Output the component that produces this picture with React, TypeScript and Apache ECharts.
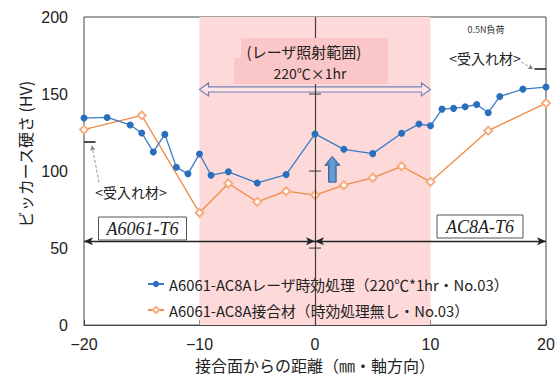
import React, { useEffect, useRef } from "react";
import * as echarts from "echarts";

// Hardness profile across the A6061 / AC8A joint
const laserDistance = [-20, -18, -16, -15, -14, -13, -12, -11, -10, -9, -7.5, -5, -2.5, 0, 2.5, 5, 7.5, 9, 10, 11, 12, 13, 14, 15, 16, 18, 20];
const laserHardness = [134.4, 134.8, 129.9, 124.7, 112.4, 123.8, 102.5, 98.2, 111.1, 97.3, 99.5, 92.3, 97.7, 124.1, 114.1, 111.3, 124.5, 130.5, 129.4, 140.2, 140.7, 141.7, 143.2, 137.9, 148.4, 153.2, 154.5];

const jointDistance = [-20, -15, -10, -7.5, -5, -2.5, 0, 2.5, 5, 7.5, 10, 15, 20];
const jointHardness = [126.9, 136.1, 72.9, 91.9, 80.0, 86.9, 84.4, 90.8, 95.6, 103.1, 93.0, 126.2, 144.1];

const laserName = "A6061-AC8Aレーザ時効処理（220℃*1hr・No.03）";
const jointName = "A6061-AC8A接合材（時効処理無し・No.03）";

// Laser-irradiated zone and reference levels (distance mm, hardness HV)
const laserZone = [-10, 10];
const zoneArrowLevel = 153;
const materialArrowLevel = 54.5;
const centerTicks = [50, 100, 150];
const upArrow = [1.5, 92.8, 109.6];
const leftAsReceived = { level: 119.1, leader: [[-18.7, 92.6], [-19.31, 116.5]] };
const rightAsReceived = { level: 166.3, leader: [[17.84, 170.9], [18.87, 166.3]] };

const BLUE = "#2a6fbd";
const ORANGE = "#f08a45";
const CJK = "'Noto Sans CJK JP', 'Noto Sans', sans-serif";
const NUM = "'Liberation Sans', Arial, sans-serif";

export default function App() {
  const ref = useRef<HTMLDivElement>(null);

  useEffect(() => {
    if (!ref.current) return;
    const chart = echarts.init(ref.current, undefined, { renderer: "svg" });

    const laserData = laserDistance.map((d, i) => [d, laserHardness[i]]);
    const jointData = jointDistance.map((d, i) => [d, jointHardness[i]]);

    const doubleArrow = (params: any, api: any) => {
      const a = api.coord([api.value(0), api.value(2)]);
      const b = api.coord([api.value(1), api.value(2)]);
      const y = a[1];
      const s = 2.6, h = 6.5, L = 9;
      const x1 = a[0], x2 = b[0];
      return {
        type: "polygon",
        shape: {
          points: [
            [x1, y], [x1 + L, y - h], [x1 + L, y - s], [x2 - L, y - s], [x2 - L, y - h],
            [x2, y], [x2 - L, y + h], [x2 - L, y + s], [x1 + L, y + s], [x1 + L, y + h],
          ],
        },
        style: { fill: "rgba(255,255,255,0.35)", stroke: "#7680b4", lineWidth: 1.2 },
      };
    };

    const blockArrowUp = (params: any, api: any) => {
      const bottom = api.coord([api.value(0), api.value(1)]);
      const top = api.coord([api.value(0), api.value(2)]);
      const x = bottom[0];
      const yb = bottom[1], yt = top[1];
      const s = 3.8, h = 7.5, L = 9;
      return {
        type: "polygon",
        shape: {
          points: [[x, yt], [x + h, yt + L], [x + s, yt + L], [x + s, yb], [x - s, yb], [x - s, yt + L], [x - h, yt + L]],
        },
        style: {
          fill: new echarts.graphic.LinearGradient(0, 0, 1, 0, [
            { offset: 0, color: "#3f70aa" },
            { offset: 0.5, color: "#6e9fd6" },
            { offset: 1, color: "#3f70aa" },
          ]),
          stroke: "#36679f",
          lineWidth: 1,
        },
      };
    };

    const thin = { color: "#222", width: 1.3, type: "solid" as const };

    chart.setOption({
      animation: false,
      grid: { left: 84, right: 14, top: 17, bottom: 52, show: true, borderColor: "#454545", borderWidth: 1 },
      xAxis: {
        type: "value",
        min: -20,
        max: 20,
        interval: 10,
        axisLine: { show: true, onZero: false, lineStyle: { color: "#454545" } },
        axisTick: { show: true, inside: true, length: 5, lineStyle: { color: "#454545" } },
        axisLabel: {
          color: "#222",
          fontSize: 16,
          fontFamily: NUM,
          margin: 11,
          formatter: (v: number) => String(v).replace("-", "\u2212"),
        },
        splitLine: { show: false },
        name: "接合面からの距離（㎜・軸方向）",
        nameLocation: "middle",
        nameGap: 28,
        nameTextStyle: { color: "#222", fontSize: 16, fontFamily: CJK },
      },
      yAxis: {
        type: "value",
        min: 0,
        max: 200,
        interval: 50,
        axisLine: { show: false, onZero: false },
        axisTick: { show: false },
        axisLabel: { color: "#222", fontSize: 16, fontFamily: NUM, margin: 16 },
        splitLine: { show: false },
      },
      legend: {
        data: [laserName, jointName],
        orient: "vertical",
        left: 142,
        top: 270,
        itemWidth: 16,
        itemHeight: 8,
        itemGap: 8,
        textStyle: { color: "#222", fontSize: 14.8, fontFamily: CJK, lineHeight: 18 },
      },
      series: [
        {
          name: "zone",
          type: "line",
          data: [],
          z: 1,
          silent: true,
          markArea: {
            silent: true,
            itemStyle: { color: "#fdd9da" },
            data: [[{ xAxis: laserZone[0] }, { xAxis: laserZone[1] }]],
          },
        },
        {
          name: "guides",
          type: "line",
          data: [],
          z: 2,
          silent: true,
          markLine: {
            silent: true,
            symbol: ["none", "none"],
            label: { show: false },
            lineStyle: { color: "#404040", width: 1.2, type: "solid" },
            data: [
              [{ coord: [0, 0] }, { coord: [0, 200] }],
              [
                { coord: [-20, materialArrowLevel], symbol: "arrow", symbolSize: [6, 9], lineStyle: thin },
                { coord: [0, materialArrowLevel], symbol: "arrow", symbolSize: [6, 9] },
              ],
              [
                { coord: [0, materialArrowLevel], symbol: "arrow", symbolSize: [6, 9], lineStyle: thin },
                { coord: [20, materialArrowLevel], symbol: "arrow", symbolSize: [6, 9] },
              ],
              [
                { coord: [-20, leftAsReceived.level], lineStyle: { color: "#222", width: 1.6, type: "solid" } },
                { coord: [-19, leftAsReceived.level] },
              ],
              [
                { coord: [19, rightAsReceived.level], lineStyle: { color: "#222", width: 1.6, type: "solid" } },
                { coord: [20, rightAsReceived.level] },
              ],
              [
                { coord: leftAsReceived.leader[0], lineStyle: { color: "#777", width: 0.8, type: [3, 2] } },
                { coord: leftAsReceived.leader[1], symbol: "arrow", symbolSize: [4, 5] },
              ],
              [
                { coord: rightAsReceived.leader[0], lineStyle: { color: "#777", width: 0.8, type: [3, 2] } },
                { coord: rightAsReceived.leader[1], symbol: "arrow", symbolSize: [4, 5] },
              ],
            ],
          },
        },
        {
          name: "centerTicks",
          type: "scatter",
          z: 2,
          silent: true,
          symbol: "rect",
          symbolSize: [12, 1.3],
          itemStyle: { color: "#404040" },
          data: centerTicks.map((v) => [0, v]),
        },
        {
          name: "zoneArrow",
          type: "custom",
          z: 3,
          silent: true,
          renderItem: doubleArrow,
          data: [[laserZone[0], laserZone[1], zoneArrowLevel]],
        },
        {
          name: "riseArrow",
          type: "custom",
          z: 3,
          silent: true,
          renderItem: blockArrowUp,
          data: [upArrow],
        },
        {
          name: jointName,
          type: "line",
          z: 4,
          data: jointData,
          symbol: "emptyDiamond",
          symbolSize: 8,
          lineStyle: { color: ORANGE, width: 1.3 },
          itemStyle: { color: "#f6ad80", borderWidth: 1 },
        },
        {
          name: laserName,
          type: "line",
          z: 5,
          data: laserData,
          symbol: "circle",
          symbolSize: 7,
          lineStyle: { color: "#3b7cc4", width: 1.3 },
          itemStyle: { color: BLUE },
        },
      ],
      graphic: [
        {
          type: "text",
          z: 100,
          x: 25,
          y: 154,
          rotation: Math.PI / 2,
          style: {
            text: "ビッカース硬さ (HV)",
            fill: "#222",
            font: `16px ${CJK}`,
            align: "center",
            verticalAlign: "middle",
          },
        },
        { type: "rect", z: 100, shape: { x: 241, y: 38, width: 147, height: 20 }, style: { fill: "#fbc6c7" } },
        { type: "rect", z: 100, shape: { x: 234, y: 58, width: 154, height: 26 }, style: { fill: "#fbc6c7" } },
        {
          type: "text",
          z: 101,
          x: 304,
          y: 51,
          style: { text: "(レーザ照射範囲)", fill: "#222", font: `15px ${CJK}`, align: "center", verticalAlign: "middle" },
        },
        {
          type: "text",
          z: 101,
          x: 310,
          y: 73,
          style: { text: "220℃×1hr", fill: "#222", font: `14px ${CJK}`, align: "center", verticalAlign: "middle" },
        },
        {
          type: "text",
          z: 101,
          x: 486,
          y: 29,
          style: { text: "0.5N負荷", fill: "#333", font: `9px ${CJK}`, align: "center", verticalAlign: "middle" },
        },
        {
          type: "text",
          z: 101,
          x: 485,
          y: 58,
          style: { text: "<受入れ材>", fill: "#222", font: `14px ${CJK}`, align: "center", verticalAlign: "middle" },
        },
        {
          type: "text",
          z: 101,
          x: 131,
          y: 192,
          style: { text: "<受入れ材>", fill: "#222", font: `14px ${CJK}`, align: "center", verticalAlign: "middle" },
        },
        {
          type: "rect",
          z: 100,
          shape: { x: 98.5, y: 217, width: 88, height: 23 },
          style: { fill: "#fff", stroke: "#555", lineWidth: 1 },
        },
        {
          type: "text",
          z: 101,
          x: 142.5,
          y: 229,
          style: { text: "A6061-T6", fill: "#222", font: `italic 18px 'Liberation Serif', serif`, align: "center", verticalAlign: "middle" },
        },
        {
          type: "rect",
          z: 100,
          shape: { x: 437, y: 215, width: 86, height: 23 },
          style: { fill: "#fff", stroke: "#555", lineWidth: 1 },
        },
        {
          type: "text",
          z: 101,
          x: 480,
          y: 227,
          style: { text: "AC8A-T6", fill: "#222", font: `italic 18px 'Liberation Serif', serif`, align: "center", verticalAlign: "middle" },
        },
      ],
    });

    return () => chart.dispose();
  }, []);

  return (
    <div
      ref={ref}
      style={{ position: "fixed", left: 0, top: 0, width: 560, height: 378, background: "#fff" }}
    />
  );
}
